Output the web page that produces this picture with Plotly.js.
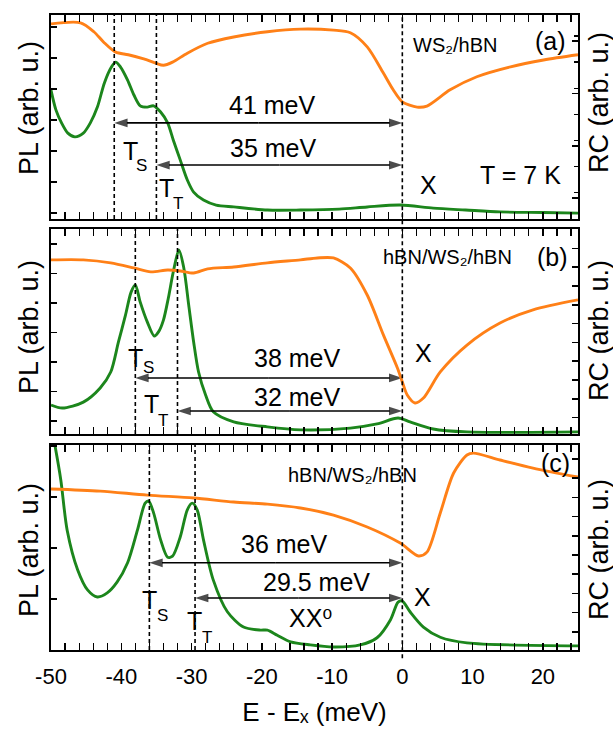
<!DOCTYPE html>
<html><head><meta charset="utf-8">
<script src="https://cdn.plot.ly/plotly-3.0.1.min.js"></script>
<style>html,body{margin:0;padding:0;background:#fff}#chart{width:613px;height:729px}</style>
</head><body><div id="chart"></div>
<script>
// ---------------- data ----------------
// Panel (a) WS2/hBN
const E_PL_a = [-50,-49.3,-48.5,-47.6,-46.6,-45.4,-44.4,-43.4,-42.4,-41.4,-40.8,-40.1,-39.1,-38.2,-37.3,-36.3,-35.4,-34.4,-33.4,-32.6,-31.6,-30.6,-29.7,-28.3,-26.5,-24,-19.2,-14.5,-9,-5,-0.3,4.4,9,13.9,20,25];
const PL_a   = [4.16,3.52,3.10,2.77,2.65,2.77,3.10,3.61,4.39,4.90,5.06,4.90,4.48,4.00,3.65,3.61,3.65,3.45,3.10,2.55,1.90,1.26,0.87,0.61,0.45,0.39,0.29,0.29,0.32,0.39,0.45,0.35,0.29,0.23,0.21,0.19];
const E_RC_a = [-50,-45.8,-43.9,-42.5,-40.8,-39,-36.8,-35.1,-34,-32.7,-30.6,-27.7,-24,-19.2,-14.5,-9.8,-7.4,-5,-2.7,-1.3,0,2.1,3.5,6.8,10.6,15.4,20.1,25];
const RC_a   = [3.73,3.75,3.58,3.38,3.19,3.14,3.06,2.98,2.94,3.00,3.17,3.36,3.48,3.58,3.63,3.61,3.56,3.29,2.79,2.47,2.24,2.14,2.16,2.47,2.72,2.91,3.04,3.14];

// Panel (b) hBN/WS2/hBN
const E_PL_b = [-50,-48.4,-45.4,-43,-41.5,-40.4,-39.4,-38.6,-38,-37.3,-36.3,-35.3,-34.7,-34,-33.3,-32.6,-31.8,-31.1,-30.4,-29.7,-29,-28,-26.9,-24,-19.2,-14.5,-7.4,-3.6,-0.6,1.1,4.4,9.2,25];
const PL_b   = [0.98,0.88,1.08,1.56,2.10,3.12,4.03,4.81,5.05,4.47,3.80,3.32,3.46,3.86,4.61,5.49,6.24,5.63,4.37,3.12,2.10,1.32,0.75,0.41,0.24,0.14,0.20,0.34,0.54,0.41,0.17,0.07,0.07];
const E_RC_b = [-50,-45.4,-41.5,-38.2,-35.8,-33.4,-31.6,-29.7,-27.7,-24,-19.2,-14.5,-12.1,-9.8,-7.4,-5,-2.7,-0.7,0,0.7,1.8,3,5.4,9.2,13.9,18.6,25];
const RC_b   = [9.26,9.26,9.10,8.83,8.62,8.72,8.67,8.56,8.78,8.88,9.10,9.26,9.36,9.36,8.83,7.39,5.27,3.51,2.77,2.07,1.65,1.91,3.30,4.73,5.90,6.60,7.13];

// Panel (c) hBN/WS2/hBN
const E_PL_c = [-50,-49.4,-48.6,-47.7,-46.2,-44.8,-43.4,-42,-40.6,-39.1,-37.7,-36.6,-36.1,-35.4,-34.4,-33.4,-32.7,-31.6,-30.6,-29.9,-29.2,-28.3,-26.9,-24.9,-22.6,-20.2,-19.2,-17.8,-15.9,-13.1,-9.8,-6,-3.6,-1.7,-0.6,0,1.1,3,5.4,9.2,25];
const PL_c   = [4.40,3.98,3.33,2.35,1.57,1.18,1.04,1.12,1.33,1.71,2.35,2.88,2.92,2.69,2.16,1.82,1.84,2.22,2.75,2.88,2.75,2.16,1.37,0.75,0.45,0.39,0.39,0.29,0.16,0.10,0.06,0.10,0.24,0.59,0.94,0.96,0.75,0.45,0.25,0.14,0.08];
const E_RC_c = [-50,-43,-36.3,-29.7,-24,-19.2,-14.5,-9.8,-5,-0.3,2.3,3.5,5.4,7.3,9.2,10.1,13.9,18.6,25];
const RC_c   = [8.39,8.28,8.07,7.92,7.71,7.60,7.40,7.03,6.41,5.57,4.90,5.10,7.14,9.22,10.16,10.26,9.90,9.48,9.01];

// Trion binding energies (meV) and tick labels
const splitS = [41, 38, 36];
const splitT = [35, 32, 29.5];
const xTicks = [-50, -40, -30, -20, -10, 0, 10, 20];
const panelLabels = ['(a)', '(b)', '(c)'];
const sampleLabels = ['WS\u2082/hBN', 'hBN/WS\u2082/hBN', 'hBN/WS\u2082/hBN'];

// ---------------- style ----------------
const FONT = 'Liberation Sans, Arial, Helvetica, DejaVu Sans, sans-serif';
const GREEN = '#1c861c';
const ORANGE = '#ff8017';
const PX = x => (x - 51) / 527;
const PY = y => (650 - y) / 635;
const xIds = ['x', 'x2', 'x3'];
const yIds = ['y', 'y3', 'y5'];

const curve = (x, y, xa, ya, color) => ({type:'scatter', mode:'lines', hoverinfo:'skip',
  x, y, xaxis:xa, yaxis:ya, line:{color, width:2.9, shape:'spline', smoothing:0.8}});
const traces = [
  curve(E_PL_a, PL_a, 'x', 'y', GREEN),   curve(E_RC_a, RC_a, 'x', 'y2', ORANGE),
  curve(E_PL_b, PL_b, 'x2', 'y3', GREEN), curve(E_RC_b, RC_b, 'x2', 'y4', ORANGE),
  curve(E_PL_c, PL_c, 'x3', 'y5', GREEN), curve(E_RC_c, RC_c, 'x3', 'y6', ORANGE)
];

// double-headed arrows between each trion line and X (drawn as two half-arrows)
const arrowY = [[3.10, 1.74], [1.90, 0.78], [1.71, 1.02]];
for (let i = 0; i < 3; i++) {
  [splitS[i], splitT[i]].forEach((s, k) => {
    const v = arrowY[i][k];
    [[-s / 2, -s], [-s / 2, 0]].forEach(xs => traces.push({
      type:'scatter', mode:'lines+markers', hoverinfo:'skip', xaxis:xIds[i], yaxis:yIds[i],
      x:xs, y:[v, v], line:{color:'#000', width:1.6},
      marker:{symbol:['circle', 'arrow'], angleref:'previous', size:[0, 14], color:'#000', line:{width:0}}
    }));
  });
}

function xax(anchor, showLabels) {
  return {
    anchor, range:[-50, 25], tickvals:xTicks, ticktext:xTicks.map(String),
    ticks:'inside', ticklen:7, tickwidth:1.5, tickcolor:'#000',
    minor:{dtick:2, tick0:0, ticks:'inside', ticklen:4, tickwidth:1.2, tickcolor:'#000'},
    showline:true, linewidth:2, linecolor:'#000', mirror:'allticks',
    showgrid:false, zeroline:false, showticklabels:showLabels,
    tickfont:{family:FONT, size:22, color:'#000'}, ticklabelstandoff:6
  };
}
function yax(domain, anchor, range, tick0, dtick, side, overlaying, minor) {
  const a = {
    anchor, range, tick0, dtick, ticks:'inside', ticklen:6, tickwidth:1.5, tickcolor:'#000',
    showline:true, linewidth:2, linecolor:'#000', showgrid:false, zeroline:false,
    showticklabels:false, fixedrange:true
  };
  if (domain) a.domain = domain;
  if (side) a.side = side;
  if (overlaying) a.overlaying = overlaying;
  if (minor) a.minor = {dtick:minor, ticks:'inside', ticklen:4, tickwidth:1.2, tickcolor:'#000'};
  return a;
}

const layout = {
  width:613, height:729, margin:{l:51, r:35, t:15, b:79},
  paper_bgcolor:'#fff', plot_bgcolor:'rgba(0,0,0,0)', showlegend:false,
  font:{family:FONT, color:'#000'},
  xaxis: xax('y', false),
  xaxis2: xax('y3', false),
  xaxis3: Object.assign(xax('y5', true), {
    title:{text:'E - E\u2093 (meV)', font:{family:FONT, size:26, color:'#000'}, standoff:14}
  }),
  yaxis:  yax([0.6787, 1], 'x',  [0, 6.58], 0.19, 1),
  yaxis2: yax(null, 'x',  [0, 3.90], 0.40, 1, 'right', 'y', 0.5),
  yaxis3: yax([0.3402, 0.6630], 'x2', [0, 6.95], 0.44, 1),
  yaxis4: yax(null, 'x2', [0, 10.9], 0.87, 1, 'right', 'y3'),
  yaxis5: yax([0, 0.3228], 'x3', [0, 4.02], 0, 1),
  yaxis6: yax(null, 'x3', [0, 10.68], 0.95, 1, 'right', 'y5'),
  shapes: [], annotations: []
};

const dash = {color:'#000', width:1.6, dash:'4px,3px'};
for (let i = 0; i < 3; i++) {
  [-splitS[i], -splitT[i]].forEach(e => layout.shapes.push({
    type:'line', layer:'above', xref:xIds[i], yref:yIds[i] + ' domain',
    x0:e, x1:e, y0:0, y1:1, line:dash
  }));
}
layout.shapes.push({type:'line', layer:'above', xref:'x', yref:'paper', x0:0, x1:0, y0:-0.013, y1:1, line:dash});

function txt(text, x, y, size, extra) {
  layout.annotations.push(Object.assign({
    xref:'paper', yref:'paper', x:PX(x), y:PY(y), text, showarrow:false,
    xanchor:'center', yanchor:'middle', font:{family:FONT, size, color:'#000'}
  }, extra || {}));
}
// energy labels
const lblPos = [[[272,105],[273,148]], [[297,358],[297,397]], [[284,544],[316,582]]];
for (let i = 0; i < 3; i++) {
  txt(splitS[i] + ' meV', lblPos[i][0][0], lblPos[i][0][1], 25);
  txt(splitT[i] + ' meV', lblPos[i][1][0], lblPos[i][1][1], 25);
}
// trion labels: T with a lowered subscript letter
const tsPos = [[130,151,141,166],[135,358,148,367],[149,600,162,615]];
const ttPos = [[166,188,178,203],[151,404,163,420],[194,621,207,637]];
for (let i = 0; i < 3; i++) {
  txt('T', tsPos[i][0], tsPos[i][1], 25); txt('S', tsPos[i][2], tsPos[i][3], 17);
  txt('T', ttPos[i][0], ttPos[i][1], 25); txt('T', ttPos[i][2], ttPos[i][3], 17);
}
// exciton labels
txt('X', 428, 185, 25); txt('X', 423, 353, 25); txt('X', 422, 597, 25);
txt('XX\u2070', 310, 618, 25);
txt('T = 7 K', 520, 175, 25);
// panel & sample labels
txt(panelLabels[0], 550, 41, 25); txt(panelLabels[1], 552, 257, 25); txt(panelLabels[2], 555, 463, 25);
txt(sampleLabels[0], 455, 45, 20); txt(sampleLabels[1], 447, 257, 20); txt(sampleLabels[2], 352, 475, 20);
// axis titles
const plY = [108, 327, 550], rcY = [103, 331, 550];
for (let i = 0; i < 3; i++) {
  txt('PL (arb. u.)', 29, plY[i], 27, {textangle:-90});
  txt('RC (arb. u.)', 599, rcY[i], 27, {textangle:-90});
}

Plotly.newPlot('chart', traces, layout, {staticPlot:true, displayModeBar:false});
</script></body></html>
